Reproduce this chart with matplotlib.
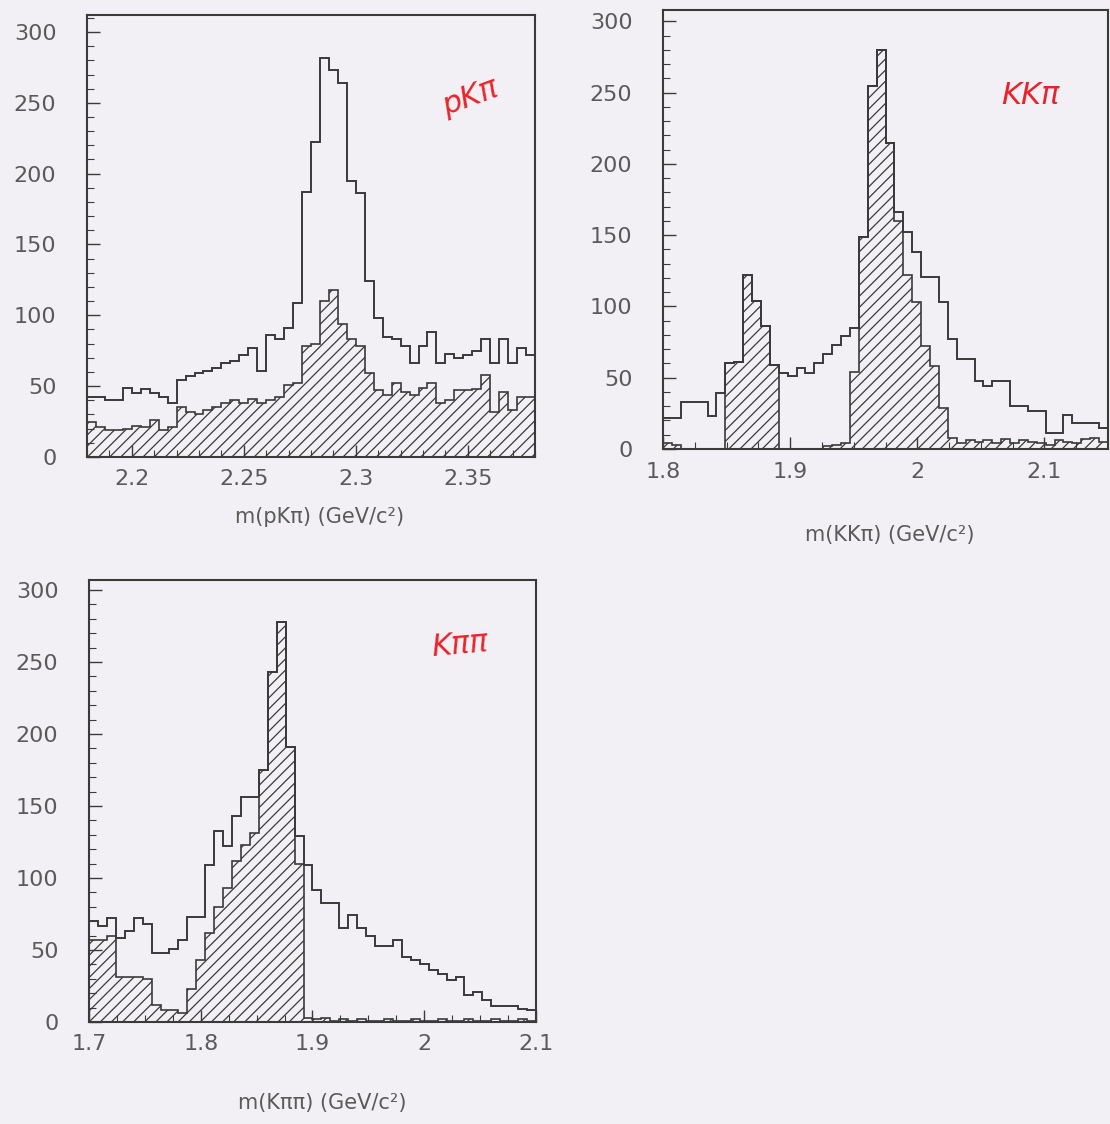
import numpy as np
import matplotlib
matplotlib.use("Agg")
import matplotlib.pyplot as plt
from matplotlib.ticker import MultipleLocator

# ---- data (50 bins per plot) ----
pkpi_range = (2.18, 2.38)
pkpi_all = [42, 42, 40, 40, 49, 45, 48, 45, 42, 38, 54, 57, 59, 61, 63, 66, 68, 72, 77, 61,
            86, 83, 91, 109, 187, 222, 282, 273, 264, 195, 186, 124, 98, 85, 83, 78, 66, 78, 88, 66,
            73, 70, 72, 75, 83, 66, 83, 66, 77, 72]
pkpi_sel = [25, 21, 19, 19, 20, 22, 21, 26, 19, 21, 35, 32, 30, 33, 35, 38, 40, 38, 41, 38,
            40, 42, 51, 52, 78, 80, 110, 118, 94, 83, 78, 59, 47, 44, 52, 46, 44, 49, 52, 38,
            40, 47, 47, 48, 58, 32, 46, 33, 42, 42]

kkpi_range = (1.8, 2.15)
kkpi_all = [22, 22, 33, 33, 33, 23, 39, 60, 61, 122, 104, 86, 59, 53, 51, 57, 53, 60, 67, 73,
            79, 85, 149, 255, 280, 215, 166, 152, 138, 121, 121, 103, 77, 63, 63, 48, 44, 48, 48, 30,
            30, 27, 27, 11, 11, 24, 18, 18, 18, 15]
kkpi_sel = [4, 3, 0, 0, 0, 0, 0, 60, 61, 122, 104, 86, 59, 0, 0, 0, 0, 0, 2, 3,
            4, 54, 149, 255, 280, 215, 160, 122, 103, 72, 58, 29, 8, 4, 6, 5, 6, 4, 7, 4,
            6, 5, 4, 3, 6, 5, 4, 7, 8, 5]

kpipi_range = (1.7, 2.1)
kpipi_all = [70, 67, 72, 58, 63, 72, 68, 48, 48, 51, 57, 73, 73, 109, 133, 122, 143, 156, 156, 175,
             243, 278, 191, 129, 109, 92, 83, 83, 65, 74, 65, 60, 53, 53, 57, 45, 43, 40, 36, 33,
             29, 31, 19, 21, 15, 11, 11, 11, 9, 8]
kpipi_sel = [57, 57, 60, 31, 31, 31, 30, 12, 8, 8, 6, 23, 43, 62, 80, 93, 112, 123, 131, 175,
             243, 278, 191, 110, 3, 2, 3, 1, 2, 1, 2, 1, 1, 2, 1, 1, 2, 1, 1, 2,
             1, 1, 2, 1, 1, 2, 1, 1, 2, 1]

bg = '#f2f0f4'
ink = '#3a3a3a'
txt = '#5a5a5a'
red = '#e8232b'

plt.rcParams['hatch.linewidth'] = 0.9
plt.rcParams['font.family'] = ['DejaVu Sans']

fig = plt.figure(figsize=(11.1, 11.24), dpi=100, facecolor=bg)


def panel(rect, rng, all_v, sel_v, ymax, major, minor, xlabel, lab_xy, tag, tag_xy, tag_rot):
    ax = fig.add_axes(rect, facecolor=bg)
    edges = np.linspace(rng[0], rng[1], len(all_v) + 1)
    ax.stairs(sel_v, edges, fill=True, hatch='///', facecolor='none',
              edgecolor=ink, linewidth=1.2)
    ax.stairs(all_v, edges, color=ink, linewidth=1.4)
    ax.set_xlim(*rng)
    ax.set_ylim(0, ymax)
    ax.xaxis.set_major_locator(MultipleLocator(major))
    ax.xaxis.set_minor_locator(MultipleLocator(minor))
    ax.yaxis.set_major_locator(MultipleLocator(50))
    ax.yaxis.set_minor_locator(MultipleLocator(10))
    ax.tick_params(which='both', direction='in', colors=ink, labelcolor=txt,
                   top=False, right=False, labelsize=16)
    ax.tick_params(which='major', length=9, width=1.0)
    ax.tick_params(which='minor', length=5, width=0.8)
    ax.tick_params(axis='y', pad=22)
    ax.tick_params(axis='x', pad=9)
    ax.xaxis.set_major_formatter(matplotlib.ticker.FuncFormatter(lambda v, p: f'{v:g}'))
    for s in ax.spines.values():
        s.set_color(ink)
        s.set_linewidth(1.5)
    fig.text(lab_xy[0] / 1110, 1 - lab_xy[1] / 1124, xlabel, ha='center', va='center',
             fontsize=15, color=txt)
    fig.text(tag_xy[0] / 1110, 1 - tag_xy[1] / 1124, tag, ha='center', va='center',
             fontsize=22, color=red, rotation=tag_rot, style='italic')
    return ax


panel([87 / 1110, 1 - 457 / 1124, 448 / 1110, 442 / 1124], pkpi_range, pkpi_all, pkpi_sel,
      312, 0.05, 0.01, 'm(pKπ) (GeV/c²)', (320, 517), 'pKπ', (470, 97), 20)
panel([663 / 1110, 1 - 449 / 1124, 445 / 1110, 439 / 1124], kkpi_range, kkpi_all, kkpi_sel,
      308, 0.1, 0.025, 'm(KKπ) (GeV/c²)', (890, 535), 'KKπ', (1030, 95), 0)
panel([89 / 1110, 1 - 1022 / 1124, 447 / 1110, 442 / 1124], kpipi_range, kpipi_all, kpipi_sel,
      307, 0.1, 0.025, 'm(Kππ) (GeV/c²)', (322, 1103), 'Kππ', (460, 645), 5)

fig.savefig('out.png', dpi=100, facecolor=bg)
